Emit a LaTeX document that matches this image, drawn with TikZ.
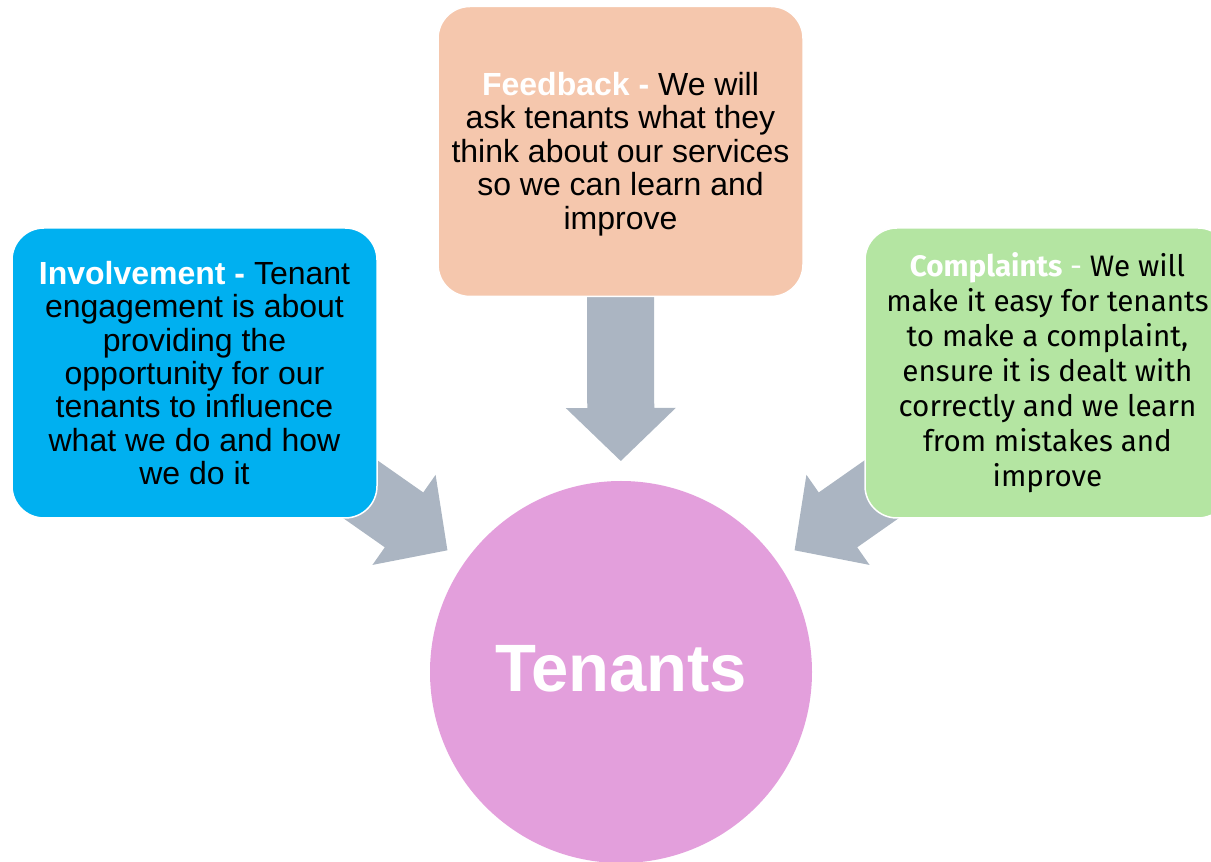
\documentclass[tikz,border=0pt]{standalone}
\usepackage{fontspec}
\setmainfont{Liberation Sans}
\newfontfamily\aptos{Fira Sans}
\usetikzlibrary{calc, backgrounds}
\definecolor{tenBlue}{HTML}{00B0F0}
\definecolor{tenPeach}{HTML}{F5C7AD}
\definecolor{tenGreen}{HTML}{B4E5A2}
\definecolor{tenPink}{HTML}{E39FDC}
\definecolor{arrowGray}{HTML}{ABB5C2}
\tikzset{
  boxBase/.style={rectangle, rounded corners=32pt, draw=white, line width=1.5pt,
                  align=center, inner sep=0pt, minimum width=365pt, minimum height=290pt,
                  font=\fontsize{32}{33.4}\selectfont},
  boxBlue/.style={boxBase, fill=tenBlue},
  boxPeach/.style={boxBase, fill=tenPeach},
  boxGreen/.style={boxBase, fill=tenGreen, font=\aptos\fontsize{29.6}{35}\selectfont},
  hubCircle/.style={circle, fill=tenPink, minimum size=382pt, inner sep=0pt,
                    text=white, font=\bfseries\fontsize{67}{70}\selectfont},
}
% block arrow: #1 = end of the shaft, #2 = tip
\newcommand{\blockarrow}[2]{%
  \fill[arrowGray] (#2)
    -- ($(#2)!53pt!(#1)!55pt!90:(#1)$)
    -- ($(#2)!53pt!(#1)!33.5pt!90:(#1)$)
    -- ($(#1)!33.5pt!-90:(#2)$)
    -- ($(#1)!33.5pt!90:(#2)$)
    -- ($(#2)!53pt!(#1)!33.5pt!-90:(#1)$)
    -- ($(#2)!53pt!(#1)!55pt!-90:(#1)$)
    -- cycle;}
\newcommand{\lead}[1]{\textcolor{white}{\bfseries #1}}

\begin{document}
\begin{tikzpicture}[x=1pt, y=1pt]
  \useasboundingbox (0,0) rectangle (1211,862);

  \node[hubCircle] (tenants) at (621,190) {\raisebox{3pt}[\height][\depth]{Tenants}};
  \node[boxPeach] (feedback) at (620.5,710.5) {\raisebox{-2.5pt}[\height][\depth]{\parbox{363pt}{\centering
    \lead{Feedback -} We will\\ask tenants what they\\think about our services\\so we can learn and\\improve}}};
  \node[boxBlue] (involve) at (194.5,489) {\lead{Involvement -} Tenant\\engagement is about\\providing the\\opportunity for our\\tenants to influence\\what we do and how\\we do it};
  \node[boxGreen] (complain) at (1047.5,489) {\lead{Complaints} \textcolor{white}{-} We will\\make it easy for tenants\\to make a complaint,\\ensure it is dealt with\\correctly and we learn\\from mistakes and\\improve};

  % arrows sit behind the boxes
  \coordinate (tipF) at ($(tenants.center)!211pt!(feedback.center)$);
  \coordinate (tailF) at ($(tipF)!165pt!(feedback.center)$);
  \coordinate (tipI) at ($(tenants.center)!212pt!(involve.center)$);
  \coordinate (tailI) at ($(tipI)!165pt!(involve.center)$);
  \coordinate (tipC) at ($(tenants.center)!212pt!(complain.center)$);
  \coordinate (tailC) at ($(tipC)!165pt!(complain.center)$);
  \begin{scope}[on background layer]
    \blockarrow{tailF}{tipF}
    \blockarrow{tailI}{tipI}
    \blockarrow{tailC}{tipC}
  \end{scope}
\end{tikzpicture}
\end{document}
